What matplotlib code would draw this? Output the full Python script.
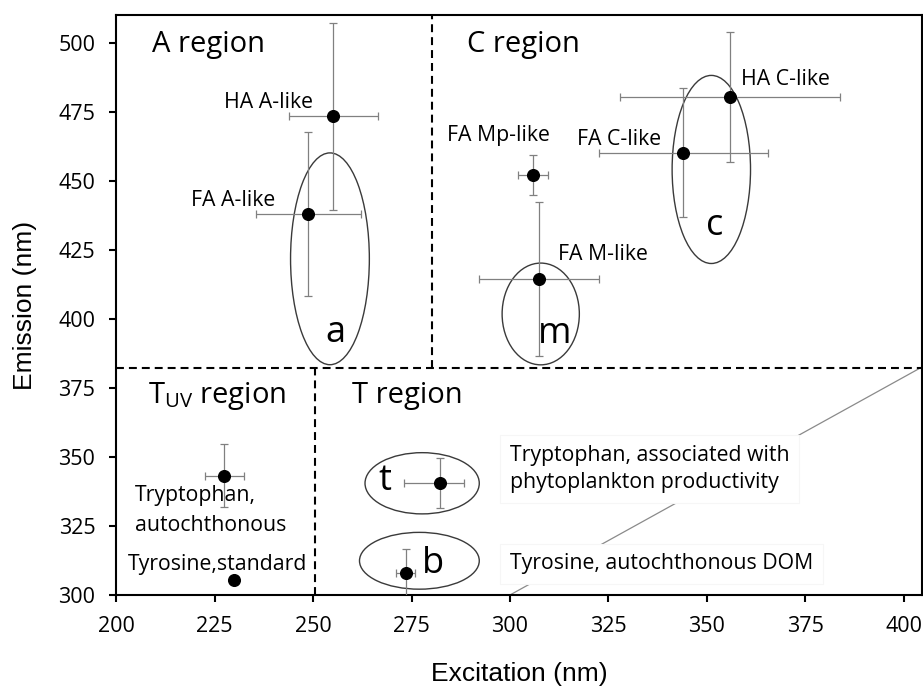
#!/usr/bin/env python3
"""Excitation/emission map of fluorescence components with region boundaries."""

import matplotlib

matplotlib.use("Agg")
import matplotlib.pyplot as plt
from matplotlib.patches import Ellipse

LABEL_FONT = "Open Sans"
AXIS_FONT = "Liberation Sans"

plt.rcParams["mathtext.fontset"] = "custom"
plt.rcParams["mathtext.rm"] = LABEL_FONT

# component peaks: excitation, emission and their spreads (nm)
peak_names = ["HA A-like", "FA A-like", "FA Mp-like", "FA M-like", "FA C-like",
              "HA C-like", "Trp auto", "Tyr std", "t", "b"]
peak_ex = [255.2, 248.8, 305.9, 307.4, 344.0, 355.8, 227.5, 230.0, 282.2, 273.5]
peak_em = [473.6, 438.1, 452.3, 414.6, 460.3, 480.5, 343.3, 305.4, 340.5, 307.9]
ex_err_lo = [11.2, 13.3, 3.8, 15.2, 21.4, 27.9, 5.0, 0.0, 9.0, 2.5]
ex_err_hi = [11.2, 13.3, 3.8, 15.2, 21.4, 27.9, 5.0, 0.0, 6.2, 2.5]
em_err = [33.9, 29.7, 7.2, 28.0, 23.4, 23.5, 11.3, 0.0, 9.0, 8.6]

# grouping ellipses: centre ex, centre em, width, height
group_names = ["a", "m", "c", "t", "b"]
group_ex = [254.3, 307.8, 351.1, 277.7, 277.0]
group_em = [421.9, 401.9, 454.3, 340.5, 312.4]
group_w = [20.0, 19.6, 19.9, 29.0, 30.4]
group_h = [76.8, 36.9, 68.2, 22.2, 20.6]
group_label_ex = [255.8, 311.4, 352.0, 268.3, 280.5]
group_label_em = [391.9, 391.3, 430.6, 337.9, 308.1]

# region boundaries (nm)
split_em = 382.3
split_ex_upper = 280.3
split_ex_lower = 250.5

# reference diagonal
diag_ex = [300.0, 404.5]
diag_em = [300.0, 382.6]

fig = plt.figure(figsize=(9.23, 6.86), dpi=100)
ax = fig.add_axes([0.1257, 0.1327, 0.8729, 0.845])
ax.set_xlim(200, 404.5)
ax.set_ylim(300, 510.2)

ax.plot(diag_ex, diag_em, color="#8a8a8a", lw=0.9, zorder=1, clip_on=False)

dash = dict(color="black", lw=1.5, dashes=(3.8, 2.4), zorder=2)
ax.axhline(split_em, **dash)
ax.plot([split_ex_upper, split_ex_upper], [split_em, 510.2], **dash)
ax.plot([split_ex_lower, split_ex_lower], [300, split_em], **dash)

for cx, cy, w, h in zip(group_ex, group_em, group_w, group_h):
    ax.add_patch(Ellipse((cx, cy), w, h, fill=False, ec="#3a3a3a", lw=1.0, zorder=3))
for name, lx, ly in zip(group_names, group_label_ex, group_label_em):
    ax.text(lx, ly, name, family=LABEL_FONT, fontsize=26, ha="center",
            va="baseline", zorder=4)

ax.errorbar(peak_ex, peak_em, xerr=[ex_err_lo, ex_err_hi], yerr=em_err,
            fmt="none", ecolor="#808080", elinewidth=0.9, capsize=3.0,
            capthick=0.9, zorder=5)
ax.plot(peak_ex, peak_em, "o", color="black", ms=8.4, zorder=6)

lab = dict(family=LABEL_FONT, fontsize=15.3, va="baseline", zorder=7)
ax.text(250.0, 476.6, "HA A-like", ha="right", **lab)
ax.text(240.4, 441.1, "FA A-like", ha="right", **lab)
ax.text(284.1, 464.5, "FA Mp-like", ha="left", **lab)
ax.text(316.9, 463.3, "FA C-like", ha="left", **lab)
ax.text(358.6, 485.0, "HA C-like", ha="left", **lab)
ax.text(312.1, 421.6, "FA M-like", ha="left", **lab)
ax.text(204.8, 333.9, "Tryptophan,", ha="left", **lab)
ax.text(204.8, 323.3, "autochthonous", ha="left", **lab)
ax.text(203.1, 309.1, "Tyrosine,standard", ha="left", **lab)

box = dict(boxstyle="square,pad=0.45", fc="white", ec="#f6f6f6", lw=0.8)
ax.text(300.0, 338.7, "Tryptophan, associated with\nphytoplankton productivity",
        ha="left", linespacing=1.42, bbox=box, **lab)
ax.text(300.0, 309.3, "Tyrosine, autochthonous DOM", ha="left", bbox=box, **lab)

reg = dict(family=LABEL_FONT, fontsize=21, va="baseline", ha="left", zorder=7)
ax.text(209.1, 496.8, "A region", **reg)
ax.text(289.1, 496.8, "C region", **reg)
ax.text(208.1, 369.6, r"T$_{\mathrm{UV}}$ region", **reg)
ax.text(259.9, 369.6, "T region", **reg)

ax.set_xticks([200, 225, 250, 275, 300, 325, 350, 375, 400])
ax.set_yticks([300, 325, 350, 375, 400, 425, 450, 475, 500])
ax.tick_params(direction="out", length=5, width=1.5, labelsize=15.5)
ax.tick_params(axis="x", pad=10)
ax.tick_params(axis="y", pad=10)
for tick in ax.get_xticklabels() + ax.get_yticklabels():
    tick.set_fontfamily(LABEL_FONT)
for spine in ax.spines.values():
    spine.set_linewidth(1.5)

ax.set_xlabel("Excitation (nm)", family=AXIS_FONT, fontsize=19, labelpad=18)
ax.set_ylabel("Emission (nm)", family=AXIS_FONT, fontsize=19, labelpad=15)

fig.savefig("out.png", dpi=100)
